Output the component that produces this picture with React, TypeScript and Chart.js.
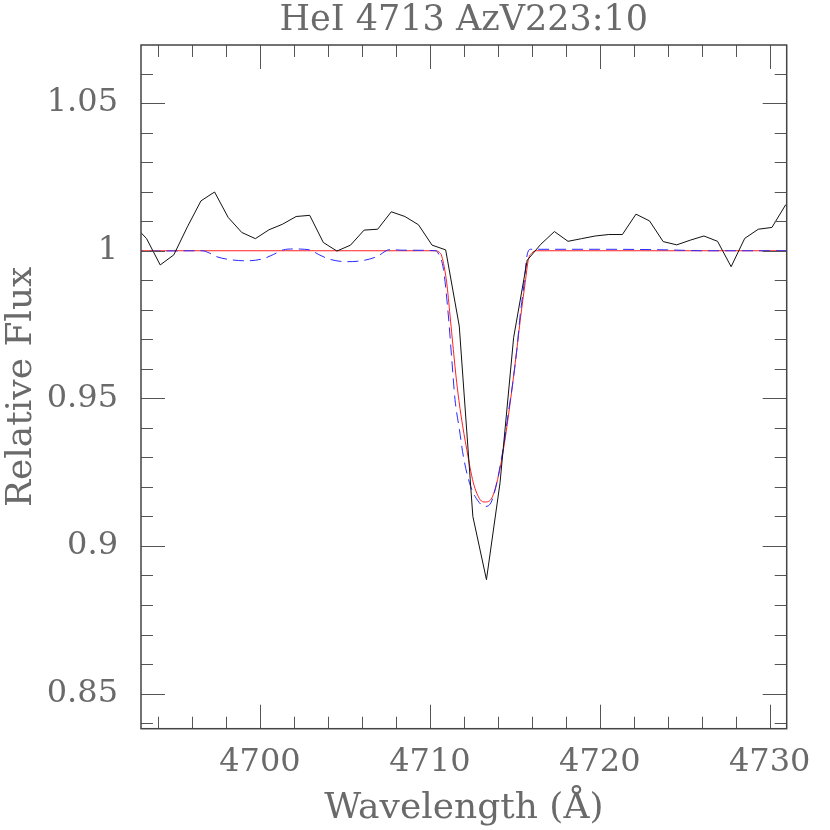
import React, { useEffect, useRef } from "react";
import { Chart, registerables } from "chart.js";

Chart.register(...registerables);

const TITLE = "HeI 4713 AzV223:10";
const X_TITLE = "Wavelength (Å)";
const Y_TITLE = "Relative Flux";

// Observed spectrum
const OBS_WAVE = [
  4692.53, 4693.33, 4694.13, 4694.93, 4695.73, 4696.53, 4697.33, 4698.13, 4698.93, 4699.73,
  4700.53, 4701.33, 4702.13, 4702.93, 4703.73, 4704.53, 4705.33, 4706.13, 4706.93, 4707.73,
  4708.53, 4709.33, 4710.13, 4710.93, 4711.73, 4712.53, 4713.33, 4714.13, 4714.93, 4715.73,
  4716.53, 4717.33, 4718.13, 4718.93, 4719.73, 4720.53, 4721.33, 4722.13, 4722.93, 4723.73,
  4724.53, 4725.33, 4726.13, 4726.93, 4727.73, 4728.53, 4729.33, 4730.13, 4730.93, 4731.73,
];
const OBS_FLUX = [
  1.009, 1.0041, 0.9952, 0.9986, 1.0081, 1.0169, 1.0199, 1.0113, 1.0062, 1.0041,
  1.0071, 1.009, 1.0116, 1.012, 1.0028, 0.9999, 1.0019, 1.007, 1.0073, 1.0132,
  1.0116, 1.0088, 1.0019, 1.0003, 0.9745, 0.91, 0.8886, 0.9214, 0.9706, 0.9968,
  1.0022, 1.0065, 1.0032, 1.0041, 1.005, 1.0055, 1.0055, 1.0124, 1.0101, 1.0031,
  1.002, 1.0036, 1.005, 1.0032, 0.9946, 1.0042, 1.0073, 1.0079, 1.0155, 1.015,
];

// Red model
const RED_WAVE = [
  4692.5, 4710.3, 4710.55, 4710.7, 4710.99, 4711.19, 4711.38, 4711.58, 4711.84, 4712.17,
  4712.56, 4712.96, 4713.25, 4713.65, 4714.03, 4714.33, 4714.62, 4714.88, 4715.12, 4715.35,
  4715.61, 4715.8, 4716.0, 4716.25, 4731.5,
];
const RED_FLUX = [
  1.0, 1.0, 0.9995, 0.9982, 0.9892, 0.9779, 0.9666, 0.9553, 0.944, 0.9327,
  0.9214, 0.9157, 0.9149, 0.9163, 0.9236, 0.9327, 0.944, 0.9553, 0.9666, 0.9779,
  0.9892, 0.9971, 0.9992, 1.0, 1.0,
];

// Blue dashed model
const BLUE_WAVE = [
  4692.5, 4696.6, 4697.0, 4697.45, 4698.23, 4699.22, 4700.19, 4700.78, 4701.37, 4701.96,
  4702.94, 4703.43, 4704.12, 4705.11, 4706.08, 4706.87, 4707.66, 4708.3, 4710.35, 4710.55,
  4710.8, 4711.09, 4711.29, 4711.48, 4711.74, 4711.97, 4712.33, 4712.66, 4713.25, 4713.59,
  4713.94, 4714.13, 4714.37, 4714.62, 4714.88, 4715.12, 4715.31, 4715.55, 4715.71, 4715.94,
  4720.0, 4724.0, 4726.0, 4731.5,
];
const BLUE_FLUX = [
  0.9998, 1.0, 0.9993, 0.998, 0.997, 0.9966, 0.9973, 0.9987, 1.0003, 1.0006,
  1.0003, 0.9988, 0.9971, 0.9963, 0.9967, 0.998, 1.0004, 1.0002, 1.0, 0.9985,
  0.9937, 0.9779, 0.9632, 0.9496, 0.9394, 0.9304, 0.9214, 0.9168, 0.9134, 0.9146,
  0.9214, 0.927, 0.9349, 0.9451, 0.9553, 0.9666, 0.9779, 0.9892, 0.9982, 1.0005,
  1.0005, 1.0003, 1.0, 1.0,
];

const X_MAJOR = [4700, 4710, 4720, 4730];
const X_MINOR = [
  4694, 4696, 4698, 4702, 4704, 4706, 4708, 4712, 4714, 4716, 4718, 4722, 4724, 4726, 4728,
];
const Y_MAJOR = [0.85, 0.9, 0.95, 1, 1.05];
const Y_MINOR = [
  0.84, 0.86, 0.87, 0.88, 0.89, 0.91, 0.92, 0.93, 0.94, 0.96, 0.97, 0.98, 0.99,
  1.01, 1.02, 1.03, 1.04, 1.06,
];

const X_MIN = 4693.0;
const X_MAX = 4731.0;
const Y_MIN = 0.8381;
const Y_MAX = 1.0697;

const toPts = (xs: number[], ys: number[]) => xs.map((x, i) => ({ x, y: ys[i] }));

const frameTicks = {
  id: "frameTicks",
  afterDatasetsDraw(chart: any) {
    const { ctx, chartArea, scales } = chart;
    const { left, right, top, bottom } = chartArea;
    const xs = scales.x;
    const ys = scales.y;
    ctx.save();
    ctx.strokeStyle = "#555";
    ctx.lineWidth = 1;
    ctx.beginPath();
    const xt = (v: number, len: number) => {
      const p = Math.round(xs.getPixelForValue(v)) + 0.5;
      ctx.moveTo(p, bottom);
      ctx.lineTo(p, bottom - len);
      ctx.moveTo(p, top);
      ctx.lineTo(p, top + len);
    };
    const yt = (v: number, len: number) => {
      const p = Math.round(ys.getPixelForValue(v)) + 0.5;
      ctx.moveTo(left, p);
      ctx.lineTo(left + len, p);
      ctx.moveTo(right, p);
      ctx.lineTo(right - len, p);
    };
    X_MAJOR.forEach((v) => xt(v, 24));
    X_MINOR.forEach((v) => xt(v, 12));
    Y_MAJOR.forEach((v) => yt(v, 24));
    Y_MINOR.forEach((v) => yt(v, 12));
    ctx.stroke();
    ctx.strokeStyle = "#444";
    ctx.lineWidth = 1.5;
    ctx.strokeRect(left, top, right - left, bottom - top);
    ctx.restore();
  },
};

export default function App() {
  const ref = useRef<HTMLCanvasElement | null>(null);
  useEffect(() => {
    if (!ref.current) return;
    const font = "'DejaVu Serif', serif";
    const txt = "#6a6a6a";
    const chart = new Chart(ref.current, {
      type: "scatter",
      data: {
        datasets: [
          {
            data: toPts(OBS_WAVE, OBS_FLUX),
            showLine: true,
            borderColor: "#111",
            borderWidth: 1,
            pointRadius: 0,
            tension: 0,
          },
          {
            data: toPts(BLUE_WAVE, BLUE_FLUX),
            showLine: true,
            borderColor: "#2a2aff",
            borderWidth: 1,
            borderDash: [11, 6],
            pointRadius: 0,
            cubicInterpolationMode: "monotone",
          },
          {
            data: toPts(RED_WAVE, RED_FLUX),
            showLine: true,
            borderColor: "#ff2020",
            borderWidth: 1,
            pointRadius: 0,
            cubicInterpolationMode: "monotone",
          },
        ],
      },
      options: {
        animation: false,
        responsive: false,
        devicePixelRatio: 1,
        layout: { padding: { left: 0, top: 0, bottom: 0, right: 43.3 } },
        plugins: {
          legend: { display: false },
          tooltip: { enabled: false },
          title: {
            display: true,
            text: TITLE,
            fullSize: false,
            color: txt,
            font: { family: font, size: 35, weight: "normal" },
            padding: { top: 0, bottom: 3 },
          },
        },
        scales: {
          x: {
            type: "linear",
            min: X_MIN,
            max: X_MAX,
            grid: { display: false, drawTicks: false },
            border: { display: false },
            afterFit: (s: any) => {
              s.height = 101.3;
            },
            afterBuildTicks: (s: any) => {
              s.ticks = X_MAJOR.map((v) => ({ value: v }));
            },
            ticks: {
              color: txt,
              padding: 15,
              maxRotation: 0,
              font: { family: font, size: 32 },
              callback: (v: any) => String(v),
            },
            title: {
              display: true,
              text: X_TITLE,
              color: txt,
              font: { family: font, size: 36 },
              padding: { top: 0, bottom: 0 },
            },
          },
          y: {
            type: "linear",
            min: Y_MIN,
            max: Y_MAX,
            grid: { display: false, drawTicks: false },
            border: { display: false },
            afterFit: (s: any) => {
              s.width = 141;
            },
            afterBuildTicks: (s: any) => {
              s.ticks = Y_MAJOR.map((v) => ({ value: v }));
            },
            ticks: {
              color: txt,
              padding: 23,
              font: { family: font, size: 32 },
              callback: (v: any) => String(v),
            },
            title: {
              display: true,
              text: Y_TITLE,
              color: txt,
              font: { family: font, size: 36 },
              padding: { top: 0, bottom: 0 },
            },
          },
        },
      },
      plugins: [frameTicks],
    } as any);
    return () => chart.destroy();
  }, []);
  return (
    <div style={{ position: "fixed", left: 0, top: 0, width: 830, height: 830, background: "#fff" }}>
      <canvas ref={ref} width={830} height={830} style={{ display: "block", width: 830, height: 830 }} />
    </div>
  );
}
